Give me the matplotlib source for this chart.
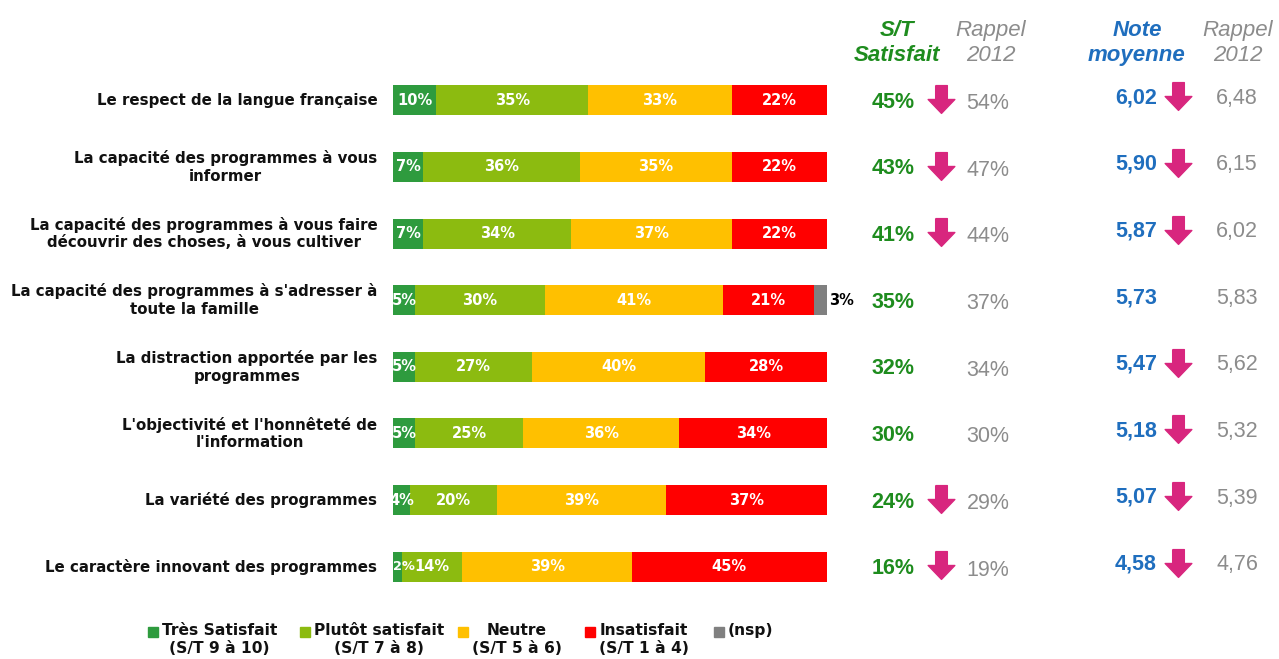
import matplotlib.pyplot as plt
from matplotlib.path import Path
from matplotlib.transforms import blended_transform_factory

# Données
labels = [
    "Le respect de la langue française",
    "La capacité des programmes à vous\ninformer",
    "La capacité des programmes à vous faire\ndécouvrir des choses, à vous cultiver",
    "La capacité des programmes à s'adresser à\ntoute la famille",
    "La distraction apportée par les\nprogrammes",
    "L'objectivité et l'honnêteté de\nl'information",
    "La variété des programmes",
    "Le caractère innovant des programmes",
]
tres = [10, 7, 7, 5, 5, 5, 4, 2]
plutot = [35, 36, 34, 30, 27, 25, 20, 14]
neutre = [33, 35, 37, 41, 40, 36, 39, 39]
insat = [22, 22, 22, 21, 28, 34, 37, 45]
nsp = [0, 0, 0, 3, 0, 0, 0, 0]

st = [45, 43, 41, 35, 32, 30, 24, 16]
st_2012 = [54, 47, 44, 37, 34, 30, 29, 19]
st_down = [True, True, True, False, False, False, True, True]
note = [6.02, 5.90, 5.87, 5.73, 5.47, 5.18, 5.07, 4.58]
note_2012 = [6.48, 6.15, 6.02, 5.83, 5.62, 5.32, 5.39, 4.76]
note_down = [True, True, True, False, True, True, True, True]

legend_labels = ["Très Satisfait\n(S/T 9 à 10)", "Plutôt satisfait\n(S/T 7 à 8)",
                 "Neutre\n(S/T 5 à 6)", "Insatisfait\n(S/T 1 à 4)", "(nsp)"]
colors = ["#2E9B3E", "#8CBB10", "#FFC000", "#FF0000", "#808080"]

W, H = 1279, 659
fig = plt.figure(figsize=(W / 100, H / 100), dpi=100)
ax = fig.add_axes([393 / W, 1 - 600 / H, 434 / W, 533 / H])

series = [tres, plutot, neutre, insat, nsp]
rows = range(len(labels))
left = [0] * len(labels)
for k, vals in enumerate(series):
    ax.barh(rows, vals, left=left, height=0.45, color=colors[k])
    for i, v in enumerate(vals):
        if v == 0:
            continue
        if k == 4:
            ax.text(left[i] + v + 0.4, i, f"{v}%", ha="left", va="center",
                    fontsize=10.5, fontweight="bold", color="black")
        elif v < 4:
            # segment trop étroit : étiquette plus petite, collée au début
            ax.text(left[i] + 0.1, i, f"{v}%", ha="left", va="center",
                    fontsize=9.3, fontweight="bold", color="white")
        else:
            ax.text(left[i] + v / 2, i, f"{v}%", ha="center", va="center",
                    fontsize=10.5, fontweight="bold", color="white")
    left = [l + v for l, v in zip(left, vals)]

ax.set_xlim(0, 100)
ax.set_ylim(7.5, -0.5)
ax.axis("off")

# libellés des catégories
for i, lab in enumerate(labels):
    ax.text(-3.6, i, lab, ha="right", va="center", fontsize=10.8,
            fontweight="bold", color="#111111", linespacing=1.2,
            multialignment="center")

# colonnes de droite
tr = blended_transform_factory(fig.transFigure, ax.transData)
arrow = Path([(-0.21, -0.5), (0.21, -0.5), (0.21, 0.0), (0.48, 0.0), (0, 0.5),
              (-0.48, 0.0), (-0.21, 0.0), (-0.21, -0.5)])
arrow = Path(arrow.vertices * [1, -1], arrow.codes)
green, grey, blue, pink = "#1E8C1E", "#8C8C8C", "#1F6EBE", "#D8267E"
sans = "Liberation Sans"
val = dict(transform=tr, ha="center", va="center", fontsize=15.5, family=sans)

for i in rows:
    ax.text(893 / W, i + 0.03, f"{st[i]}%", color=green, fontweight="bold", **val)
    ax.text(988 / W, i + 0.05, f"{st_2012[i]}%", color=grey, **val)
    ax.text(1136 / W, i - 0.04, f"{note[i]:.2f}".replace(".", ","),
            color=blue, fontweight="bold", **val)
    ax.text(1237 / W, i - 0.03, f"{note_2012[i]:.2f}".replace(".", ","),
            color=grey, **val)
    if st_down[i]:
        ax.plot(941 / W, i - 0.02, marker=arrow, markersize=20, color=pink,
                transform=tr, clip_on=False)
    if note_down[i]:
        ax.plot(1178 / W, i - 0.06, marker=arrow, markersize=20, color=pink,
                transform=tr, clip_on=False)

# en-têtes
hy = 1 - 43 / H
hdr = dict(ha="center", va="center", fontsize=16, style="italic", family=sans,
           linespacing=1.3)
fig.text(897 / W, hy, "S/T\nSatisfait", color=green, fontweight="bold", **hdr)
fig.text(991 / W, hy, "Rappel\n2012", color=grey, **hdr)
fig.text(1137 / W, hy, "Note\nmoyenne", color=blue, fontweight="bold", **hdr)
fig.text(1238 / W, hy, "Rappel\n2012", color=grey, **hdr)

# légende
leg_x = [148, 300, 458, 585, 714]
for x, c, lab in zip(leg_x, colors, legend_labels):
    fig.patches.append(plt.Rectangle((x / W, 1 - 637 / H), 10 / W, 10 / H,
                                     color=c, transform=fig.transFigure))
    fig.text((x + 14) / W, 1 - 623 / H, lab, ha="left", va="top", fontsize=11.2,
             fontweight="bold", color="#111111", multialignment="center",
             linespacing=1.25)

fig.savefig("out.png", dpi=100)
